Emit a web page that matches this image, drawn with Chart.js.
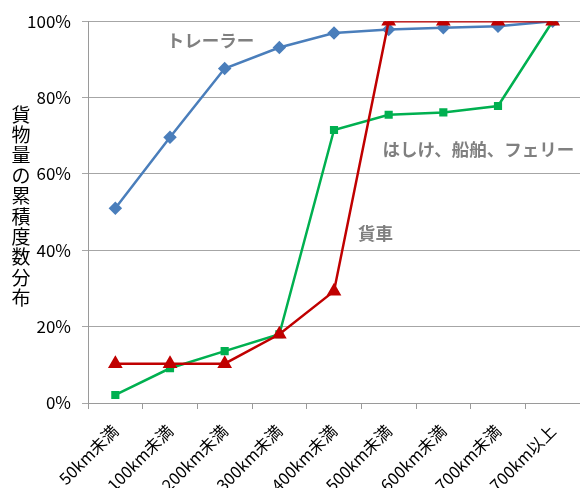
<!DOCTYPE html>
<html>
<head>
<meta charset="utf-8">
<script src="https://cdn.jsdelivr.net/npm/chart.js@4.4.1/dist/chart.umd.min.js"></script>
<style>
  html, body { margin: 0; padding: 0; background: #fff; }
  #wrap { width: 580px; height: 488px; position: relative; }
</style>
</head>
<body>
<div id="wrap"><canvas id="c" width="580" height="488"></canvas></div>
<script>
// 輸送距離帯
const categories = ['50km未満', '100km未満', '200km未満', '300km未満', '400km未満', '500km未満', '600km未満', '700km未満', '700km以上'];
// 貨物量の累積度数分布 (%)
const trailer = [51.0, 69.6, 87.6, 93.1, 96.9, 97.8, 98.3, 98.7, 100];
const bargeShipFerry = [2.1, 9.1, 13.6, 18.0, 71.5, 75.5, 76.1, 77.8, 100];
const freightCar = [10.3, 10.3, 10.3, 18.0, 29.3, 100, 100, 100, 100];
const yTicks = [0, 20, 40, 60, 80, 100];
const yTitle = '貨物量の累積度数分布';

const FONT = '"Noto Sans CJK JP", "Noto Sans", sans-serif';
const JP = '"Noto Sans CJK JP", sans-serif';

// 系列名を線の近くに描く
const seriesLabels = [
  { text: 'トレーラー', idx: 1.74, val: 94.9 },
  { text: 'はしけ、船舶、フェリー', idx: 6.64, val: 66.5 },
  { text: '貨車', idx: 4.76, val: 44.4 }
];

const labelPlugin = {
  id: 'labels',
  afterDraw(chart) {
    const ctx = chart.ctx;
    const xs = chart.scales.x, ys = chart.scales.y;
    ctx.save();
    ctx.fillStyle = '#808080';
    ctx.font = 'bold 17.5px ' + JP;
    ctx.textAlign = 'center';
    ctx.textBaseline = 'middle';
    seriesLabels.forEach(l => {
      ctx.fillText(l.text, xs.getPixelForValue(l.idx), ys.getPixelForValue(l.val));
    });
    // 縦書きの軸タイトル
    ctx.fillStyle = '#000';
    ctx.font = '19px ' + JP;
    const chars = Array.from(yTitle);
    const step = 20.4;
    const mid = (chart.chartArea.top + chart.chartArea.bottom) / 2 - 6;
    const start = mid - step * (chars.length - 1) / 2;
    chars.forEach((ch, i) => ctx.fillText(ch, 21, start + i * step));
    ctx.restore();
  }
};

new Chart(document.getElementById('c'), {
  type: 'line',
  data: {
    labels: categories,
    datasets: [
      {
        label: 'トレーラー', data: trailer, order: 2,
        borderColor: '#4a7ebb', backgroundColor: '#4a7ebb', borderWidth: 2.5,
        pointStyle: 'rectRot', pointRadius: 5, pointHoverRadius: 5
      },
      {
        label: 'はしけ、船舶、フェリー', data: bargeShipFerry, order: 1,
        borderColor: '#00b050', backgroundColor: '#00b050', borderWidth: 2.5,
        pointStyle: 'rect', pointRadius: 4, pointHoverRadius: 4
      },
      {
        label: '貨車', data: freightCar, order: 0,
        borderColor: '#c00000', backgroundColor: '#c00000', borderWidth: 2.5,
        pointStyle: 'triangle', pointRadius: 6, pointHoverRadius: 6
      }
    ]
  },
  options: {
    responsive: false,
    animation: false,
    layout: { autoPadding: false, padding: { top: 18, right: 0, left: 0, bottom: 0 } },
    plugins: { legend: { display: false }, tooltip: { enabled: false } },
    scales: {
      x: {
        offset: true,
        grid: { offset: true, drawOnChartArea: false, drawTicks: true, tickLength: 6, color: '#9a9a9a', lineWidth: 1 },
        border: { color: '#9a9a9a', width: 1 },
        ticks: { color: '#000', font: { family: FONT, size: 16.5 }, minRotation: 45, maxRotation: 45, padding: 12, autoSkip: false },
        afterFit(s) { s.height = 85; s.paddingLeft = 0; s.paddingRight = 0; }
      },
      y: {
        min: 0, max: 100,
        afterBuildTicks(s) { s.ticks = yTicks.map(v => ({ value: v })); },
        grid: { color: '#a6a6a6', lineWidth: 1, tickLength: 6 },
        border: { color: '#9a9a9a', width: 1 },
        ticks: { color: '#000', font: { family: FONT, size: 17 }, padding: 11, callback: v => v + '%' },
        afterFit(s) { s.width = 88; }
      }
    }
  },
  plugins: [labelPlugin]
});
</script>
</body>
</html>
